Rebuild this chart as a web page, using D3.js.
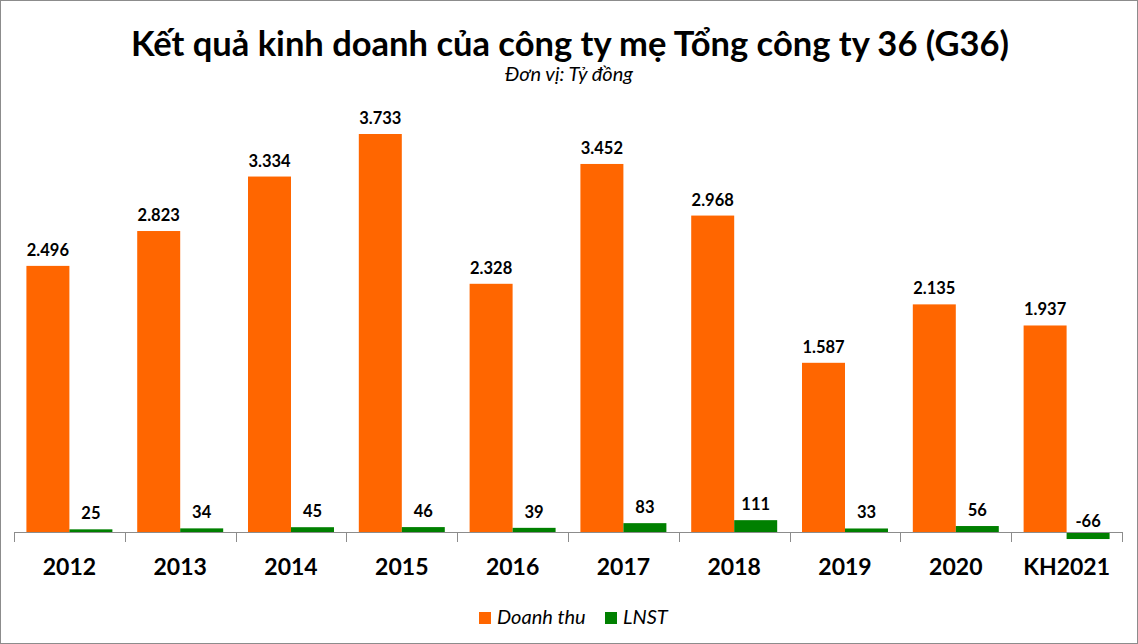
<!doctype html>
<html>
  <head>
    <meta charset="utf-8">
    <script src="https://cdnjs.cloudflare.com/ajax/libs/d3/7.8.5/d3.min.js"></script>
    <style>
      body { margin: 0; background: #fff; }
      svg { display: block; font-family: Lato, "Open Sans", sans-serif; }
    </style>
  </head>
  <body>
    <svg id="chart" width="1138" height="644"></svg>
    <script>
        var years = ["2012", "2013", "2014", "2015", "2016", "2017", "2018", "2019", "2020", "KH2021"];
        var doanhThu = [2496, 2823, 3334, 3733, 2328, 3452, 2968, 1587, 2135, 1937];
        var lnst = [25, 34, 45, 46, 39, 83, 111, 33, 56, -66];
        var seriesNames = ["Doanh thu", "LNST"];
        var seriesColors = ["#ff6600", "#008000"];

        var svg = d3.select("#chart");
        var W = 1138, H = 644;

        // khung ngoai
        svg.append("rect")
            .attr("x", 0.5).attr("y", 0.5)
            .attr("width", W - 1).attr("height", H - 1)
            .attr("fill", "#fff")
            .attr("stroke", "#8c8c8c");

        svg.append("text")
            .attr("x", W / 2 + 1).attr("y", 56)
            .attr("text-anchor", "middle")
            .style("font-size", "34.5px")
            .style("font-weight", "bold")
            .text("Kết quả kinh doanh của công ty mẹ Tổng công ty 36 (G36)");

        svg.append("text")
            .attr("x", W / 2).attr("y", 81)
            .attr("text-anchor", "middle")
            .style("font-size", "20px")
            .style("font-style", "italic")
            .text("Đơn vị: Tỷ đồng");

        var x = d3.scaleBand()
            .domain(years)
            .range([14, 1122]);

        var bw = x.bandwidth();
        var x1 = d3.scaleBand()
            .domain([0, 1])
            .range([bw * 0.112, bw * 0.888]);

        var y = d3.scaleLinear()
            .domain([0, 3733])
            .range([532, 134]);

        var fmt = v => d3.format(",")(v).replace(/,/g, ".").replace("\u2212", "-");

        var rows = years.map((yr, i) => ({ year: yr, values: [doanhThu[i], lnst[i]] }));

        var groups = svg.selectAll("g.grp")
            .data(rows)
            .enter()
            .append("g")
                .attr("class", "grp")
                .attr("transform", d => "translate(" + x(d.year) + ",0)");

        groups.selectAll("rect")
            .data(d => d.values.map((v, k) => ({ v: v, k: k })))
            .enter()
            .append("rect")
                .attr("x", d => x1(d.k))
                .attr("width", x1.bandwidth())
                .attr("y", d => y(Math.max(d.v, 0)))
                .attr("height", d => Math.abs(y(d.v) - y(0)))
                .attr("fill", d => seriesColors[d.k]);

        groups.selectAll("text.val")
            .data(d => d.values.map((v, k) => ({ v: v, k: k })))
            .enter()
            .append("text")
                .attr("class", "val")
                .attr("x", d => x1(d.k) + x1.bandwidth() / 2)
                .attr("y", d => d.v < 0 ? y(0) - 5 : y(d.v) - 10)
                .attr("text-anchor", "middle")
                .style("font-size", "16.5px")
                .style("font-weight", "bold")
                .text(d => fmt(d.v));

        // truc hoanh
        var axisColor = "#8c8c8c";
        svg.append("line")
            .attr("x1", x.range()[0]).attr("x2", x.range()[1])
            .attr("y1", y(0) + 0.5).attr("y2", y(0) + 0.5)
            .attr("stroke", axisColor);

        var edges = years.map(d => x(d)).concat([x.range()[1]]);
        svg.selectAll("line.tick")
            .data(edges)
            .enter()
            .append("line")
                .attr("class", "tick")
                .attr("x1", d => Math.round(d) + 0.5).attr("x2", d => Math.round(d) + 0.5)
                .attr("y1", y(0)).attr("y2", y(0) + 10)
                .attr("stroke", axisColor);

        svg.selectAll("text.cat")
            .data(years)
            .enter()
            .append("text")
                .attr("class", "cat")
                .attr("x", d => x(d) + bw / 2)
                .attr("y", 575)
                .attr("text-anchor", "middle")
                .style("font-size", "23px")
                .style("font-weight", "bold")
                .text(d => d);

        // chu giai
        var legendX = [479, 605];
        var legend = svg.selectAll("g.leg")
            .data(seriesNames)
            .enter()
            .append("g")
                .attr("class", "leg")
                .attr("transform", (d, i) => "translate(" + legendX[i] + ",612)");

        legend.append("rect")
            .attr("width", 12).attr("height", 12)
            .attr("fill", (d, i) => seriesColors[i]);

        legend.append("text")
            .attr("x", 18).attr("y", 12)
            .style("font-size", "20px")
            .style("font-style", "italic")
            .text(d => d);
    </script>
  </body>
</html>
